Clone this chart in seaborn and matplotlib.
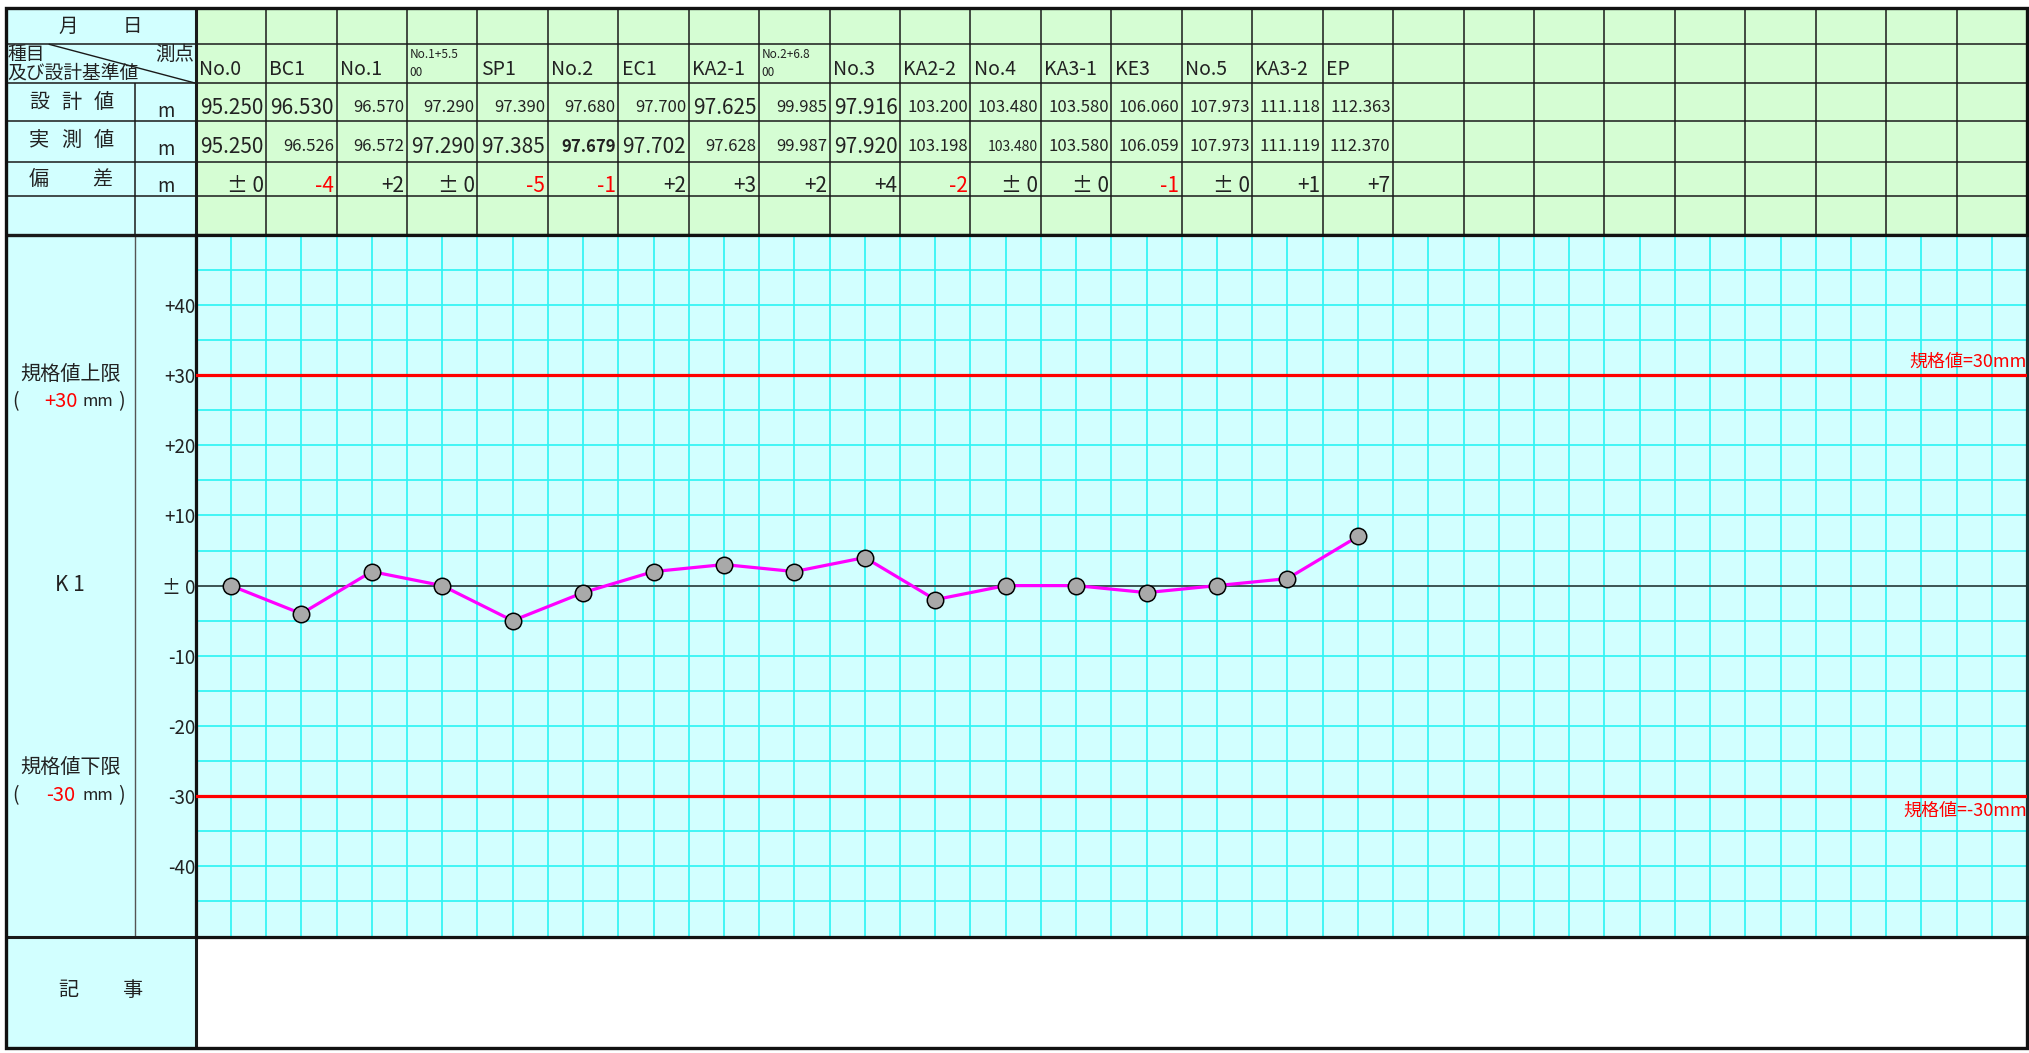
import numpy as np
import pandas as pd
import matplotlib
matplotlib.use("Agg")
import matplotlib.pyplot as plt
from matplotlib.patches import Rectangle
import seaborn as sns

# --- データ ---
stations = ["No.0", "BC1", "No.1", "No.1+5.5\n00", "SP1", "No.2", "EC1", "KA2-1",
            "No.2+6.8\n00", "No.3", "KA2-2", "No.4", "KA3-1", "KE3", "No.5", "KA3-2", "EP"]
design_values = [95.250, 96.530, 96.570, 97.290, 97.390, 97.680, 97.700, 97.625, 99.985,
                 97.916, 103.200, 103.480, 103.580, 106.060, 107.973, 111.118, 112.363]
measured_values = [95.250, 96.526, 96.572, 97.290, 97.385, 97.679, 97.702, 97.628, 99.987,
                   97.920, 103.198, 103.480, 103.580, 106.059, 107.973, 111.119, 112.370]
deviation_mm = [0, -4, 2, 0, -5, -1, 2, 3, 2, 4, -2, 0, 0, -1, 0, 1, 7]
limit_mm = 30
y_ticks = [40, 30, 20, 10, 0, -10, -20, -30, -40]
y_tick_labels = ["+40", "+30", "+20", "+10", "± 0", "-10", "-20", "-30", "-40"]
n_cols = 26

# セルごとの文字サイズ（元の帳票のばらつき）
design_big = [0, 1, 7, 9]
measured_big = [0, 3, 4, 6, 9]
measured_tiny = [11]
measured_bold = [5]

# --- レイアウト（参照画像 1568x815 換算） ---
W, H = 1568, 815
X_LEFT, X_UNIT, X_DATA, X_RIGHT = 5, 104, 151.2, 1566.5
ROW_Y = [6.5, 34.3, 64.4, 94, 125.4, 152, 181.6]
Y_CHART_BOTTOM, Y_BOTTOM = 724.9, 811
COL_W = (X_RIGHT - X_DATA) / n_cols

CYAN = "#d2ffff"
GREEN = "#d5fdd3"
GRID = "#30f4f4"
INK = "#222222"

sns.set_theme(style="white")
plt.rcParams["font.family"] = ["Noto Sans CJK JP", "DejaVu Sans"]

fig = plt.figure(figsize=(20.29, 10.53), dpi=100)
bg = fig.add_axes([0, 0, 1, 1])
bg.set_xlim(0, W)
bg.set_ylim(H, 0)
bg.axis("off")


def rect(x0, y0, x1, y1, color):
    bg.add_patch(Rectangle((x0, y0), x1 - x0, y1 - y0, facecolor=color,
                           edgecolor="none", zorder=0))


def hline(y, x0, x1, lw=1.1, color="#1a1a1a"):
    bg.plot([x0, x1], [y, y], color=color, lw=lw, zorder=2, solid_capstyle="butt")


def vline(x, y0, y1, lw=1.1, color="#1a1a1a"):
    bg.plot([x, x], [y0, y1], color=color, lw=lw, zorder=2, solid_capstyle="butt")


# 背景
rect(X_LEFT, ROW_Y[0], X_DATA, Y_BOTTOM, CYAN)
rect(X_DATA, ROW_Y[0], X_RIGHT, ROW_Y[-1], GREEN)
rect(X_DATA, Y_CHART_BOTTOM, X_RIGHT, Y_BOTTOM, "white")

# 表の罫線
for y in ROW_Y[1:-1]:
    hline(y, X_LEFT, X_RIGHT)
for i in range(1, n_cols):
    vline(X_DATA + i * COL_W, ROW_Y[0], ROW_Y[-1])
vline(X_UNIT, ROW_Y[2], ROW_Y[-1])
vline(X_UNIT, ROW_Y[-1], Y_CHART_BOTTOM, lw=1.0, color="#555555")
bg.plot([38, X_DATA], [ROW_Y[1], ROW_Y[2]], color="#1a1a1a", lw=1.0, zorder=2)
hline(ROW_Y[-1], X_LEFT, X_RIGHT, lw=2.4)
hline(Y_CHART_BOTTOM, X_LEFT, X_RIGHT, lw=2.2)
vline(X_DATA, ROW_Y[0], Y_BOTTOM, lw=2.2)
bg.add_patch(Rectangle((X_LEFT, ROW_Y[0]), X_RIGHT - X_LEFT, Y_BOTTOM - ROW_Y[0],
                       facecolor="none", edgecolor="#111111", lw=2.4, zorder=3))


# 左側の見出し
def spaced(chars, xs, y, size=14.5, color=INK):
    for c, x in zip(chars, xs):
        bg.text(x, y, c, ha="center", va="center", fontsize=size, color=color)


spaced("月日", [53, 102], 20.5, size=14)
bg.text(6, 42.2, "種目", ha="left", va="center", fontsize=13.5, color=INK)
bg.text(6, 56.5, "及び設計基準値", ha="left", va="center", fontsize=13.5, color=INK)
bg.text(150, 42.5, "測点", ha="right", va="center", fontsize=14, color=INK)
spaced("設計値", [30, 55, 80], 79)
spaced("実測値", [30, 55, 80], 108.5)
spaced("偏差", [30, 79], 139)
for y in [86.5, 116, 144.5]:
    bg.text(128, y, "m", ha="center", va="center", fontsize=13.5, color=INK)

bg.text(54.5, 290, "規格値上限", ha="center", va="center", fontsize=14.5, color=INK)
bg.text(54.5, 594, "規格値下限", ha="center", va="center", fontsize=14.5, color=INK)
for y, lab in [(311, "+30"), (616, "-30")]:
    bg.text(12, y, "(", ha="center", va="center", fontsize=14, color=INK)
    bg.text(47, y, lab, ha="center", va="center", fontsize=14.5, color="red")
    bg.text(75.5, y, "mm", ha="center", va="center", fontsize=12, color=INK)
    bg.text(94, y, ")", ha="center", va="center", fontsize=14, color=INK)
bg.text(54, 452.5, "K 1", ha="center", va="center", fontsize=15, color=INK)
spaced("記事", [53, 102], 767)

# 測点・数値の行
for i, name in enumerate(stations):
    x0 = X_DATA + i * COL_W
    x1 = x0 + COL_W
    if "\n" in name:
        top, bottom = name.split("\n")
        bg.text(x0 + 2, 42.5, top, ha="left", va="center", fontsize=8.5, color=INK)
        bg.text(x0 + 2, 56, bottom, ha="left", va="center", fontsize=8.5, color=INK)
    else:
        bg.text(x0 + 2.5, 54, name, ha="left", va="center", fontsize=14, color=INK)

    size = 15 if i in design_big else 12
    bg.text(x1 - 2, 83.5, f"{design_values[i]:.3f}", ha="right", va="center",
            fontsize=size, color=INK)

    if i in measured_big:
        size = 15
    elif i in measured_tiny:
        size = 10
    else:
        size = 12
    weight = "bold" if i in measured_bold else "normal"
    bg.text(x1 - 2, 113.5, f"{measured_values[i]:.3f}", ha="right", va="center",
            fontsize=size, fontweight=weight, color=INK)

    d = deviation_mm[i]
    label = "± 0" if d == 0 else f"{d:+d}"
    bg.text(x1 - 2, 144, label, ha="right", va="center", fontsize=15,
            color="red" if d < 0 else INK)

# --- 偏差グラフ ---
ax = fig.add_axes([X_DATA / W, 1 - Y_CHART_BOTTOM / H, (X_RIGHT - X_DATA) / W,
                   (Y_CHART_BOTTOM - ROW_Y[-1]) / H])
ax.set_facecolor(CYAN)
df = pd.DataFrame({"pos": np.arange(len(stations)), "deviation": deviation_mm})

ax.set_xlim(-0.5, n_cols - 0.5)
ax.set_ylim(-50, 50)
ax.set_xticks(np.arange(0, n_cols))
ax.set_xticks(np.arange(0.5, n_cols - 0.5), minor=True)
ax.set_xticklabels([])
ax.set_yticks(y_ticks, y_tick_labels)
ax.set_yticks(np.arange(-45, 50, 10), minor=True)
ax.grid(which="both", color=GRID, lw=1.25)
ax.set_axisbelow(True)
ax.tick_params(which="both", length=0)
ax.tick_params(axis="y", labelsize=13.5, pad=0, labelcolor=INK)

ax.axhline(0, color="#404848", lw=1.3, zorder=2)
for lim in [limit_mm, -limit_mm]:
    ax.axhline(lim, color="#ff0000", lw=2.3, zorder=3)
ax.text(n_cols - 0.5, limit_mm + 0.6, f"規格値={limit_mm}mm", ha="right", va="bottom",
        color="red", fontsize=13, zorder=4)
ax.text(n_cols - 0.5, -limit_mm - 0.8, f"規格値=-{limit_mm}mm", ha="right", va="top",
        color="red", fontsize=13, zorder=4)

sns.lineplot(data=df, x="pos", y="deviation", color="#ff00ff", lw=2.3, ax=ax, zorder=4)
sns.scatterplot(data=df, x="pos", y="deviation", s=140, color="#a9a9a9",
                edgecolor="black", linewidth=1.1, ax=ax, zorder=5)
ax.set_xlabel("")
ax.set_ylabel("")

for side in ["left", "top", "bottom", "right"]:
    ax.spines[side].set_visible(True)
    ax.spines[side].set_color("#111111")
    ax.spines[side].set_linewidth(2.3)
ax.spines["right"].set_color("#1a3030")

fig.savefig("out.png", dpi=100)
plt.close(fig)
